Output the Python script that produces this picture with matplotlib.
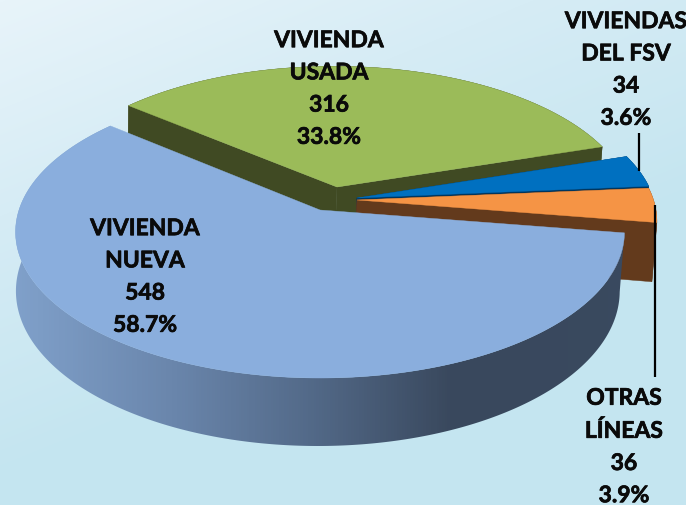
import numpy as np
import matplotlib
matplotlib.use("Agg")
import matplotlib.pyplot as plt
import matplotlib.patheffects as pe
from matplotlib.colors import LinearSegmentedColormap
from matplotlib.patches import Polygon

# ---------- data ----------
categories = ["VIVIENDA\nNUEVA", "VIVIENDA\nUSADA", "VIVIENDAS\nDEL FSV", "OTRAS\nLÍNEAS"]
values = [548, 316, 34, 36]

# ---------- style / layout ----------
top_colors = ["#8AAEDD", "#9BBB59", "#0070C0", "#F59445"]
wall_colors = ["#3A4A60", "#404A23", "#00365F", "#633A1C"]
apex = [(320, 210), (337, 187), (357, 198), (357, 200)]
arc_center = [(320, 210), (334, 188), (357, 198), (357, 200)]
scale = [1.0, 0.98, 0.985, 0.985]
label_pos = [(145, 277), (329, 89), (626, 70), (624, 447)]
START_ANGLE = 351.0
RX, RY, K, DEPTH, VX, VS = 301.0, 142.8, 0.15, 57.8, 60.0, 0.9916
W, H = 686, 505

plt.rcParams["font.family"] = ["Lato", "DejaVu Sans"]
fig = plt.figure(figsize=(W / 100, H / 100), dpi=100)
ax = fig.add_axes([0, 0, 1, 1])
ax.axis("off")


def top_pt(theta, i):
    """Perspective projection of a unit-circle point on slice i's top face."""
    t = np.radians(theta)
    x, y = np.cos(t), np.sin(t)
    w = 1 + K * y
    cx, cy = arc_center[i]
    return cx + scale[i] * RX * x / w, cy - scale[i] * RY * y / w, w


def bottom_pt(px, py, w):
    return VX + (px - VX) * VS, py + DEPTH / w


# background
yy, xx = np.mgrid[0:H, 0:W]
tt = np.clip((xx / W * 0.55 + yy / H) / 0.95, 0, 1)
bg_cmap = LinearSegmentedColormap.from_list("bg", [(0, "#E8F4FA"), (0.45, "#D6ECF5"), (1, "#C4E5F0")])
ax.imshow(tt, cmap=bg_cmap, vmin=0, vmax=1, extent=[0, W, H, 0], aspect="auto", zorder=0)

wall_cmap = LinearSegmentedColormap.from_list(
    "wall", [(0.0, "#82A3CD"), (0.25, "#6A86AC"), (0.45, "#536A89"), (0.66, "#39485D"), (1.0, "#3A4A60")])

total = sum(values)
sweeps = [v / total * 360 for v in values]
starts = [START_ANGLE - sum(sweeps[:i]) for i in range(len(values))]
mid_angle = [starts[i] - sweeps[i] / 2 for i in range(len(values))]

z = 1
for i in [1, 2, 3, 0]:
    th = np.linspace(starts[i], starts[i] - sweeps[i], max(int(sweeps[i] * 2), 8))
    px, py, w = top_pt(th, i)
    bx, by = bottom_pt(px, py, w)
    ax0, ay0 = apex[i]
    abx, aby = bottom_pt(ax0, ay0, 1.0)

    # walls
    outer = np.column_stack([np.r_[px, bx[::-1]], np.r_[py, by[::-1]]])
    cut1 = [(ax0, ay0), (px[0], py[0]), (bx[0], by[0]), (abx, aby)]
    cut2 = [(ax0, ay0), (px[-1], py[-1]), (bx[-1], by[-1]), (abx, aby)]
    if i == 0:
        grad = np.tile(np.linspace(0, 1, W), (2, 1))
        im = ax.imshow(grad, cmap=wall_cmap, extent=[0, W, H, 0], aspect="auto", zorder=z)
        im.set_clip_path(Polygon(outer, transform=ax.transData))
    else:
        for poly in (cut1, cut2, outer):
            ax.add_patch(Polygon(poly, fc=wall_colors[i], ec=wall_colors[i], lw=0.3, zorder=z))
    z += 1
    # top
    top = np.column_stack([np.r_[ax0, px], np.r_[ay0, py]])
    ax.add_patch(Polygon(top, fc=top_colors[i], ec=top_colors[i], lw=0.3, zorder=z))
    z += 1

# leader lines
for i, yend in ((2, 133), (3, 377)):
    lx, ly, _ = top_pt(mid_angle[i], i)
    ax.plot([lx, lx], [ly, yend], color="black", lw=1.6, zorder=z, solid_capstyle="butt")

# labels
for i, (lx, ly) in enumerate(label_pos):
    txt = f"{categories[i]}\n{values[i]}\n{values[i] / total * 100:.1f}%"
    ax.text(lx, ly, txt, ha="center", va="center", fontsize=16.5, fontweight="bold",
            color="#0A0A0A", linespacing=1.66, zorder=z + 1,
            path_effects=[pe.withStroke(linewidth=0.5, foreground="#0A0A0A")])

ax.set_xlim(0, W)
ax.set_ylim(H, 0)
fig.savefig("out.png", dpi=100)
